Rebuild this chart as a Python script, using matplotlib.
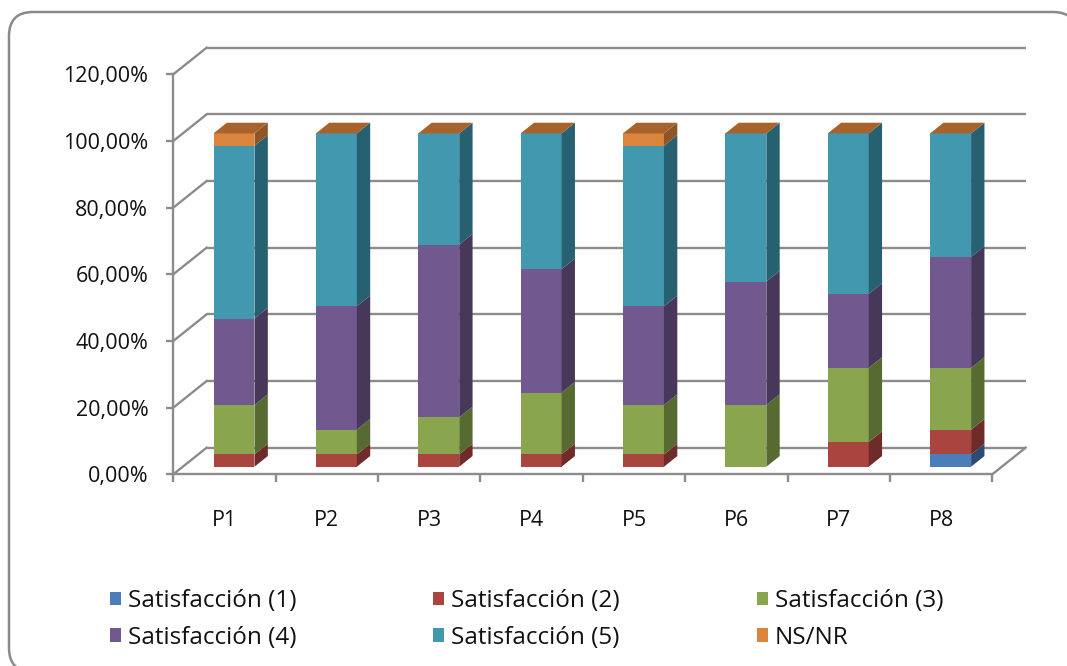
import numpy as np
import matplotlib
matplotlib.use("Agg")
import matplotlib.pyplot as plt
from matplotlib.patches import Patch, FancyBboxPatch
from matplotlib.transforms import Affine2D
from matplotlib.ticker import FuncFormatter

# ---- data (percent of answers per question) ----
categories = ["P1", "P2", "P3", "P4", "P5", "P6", "P7", "P8"]
series_names = ["Satisfacción (1)", "Satisfacción (2)", "Satisfacción (3)",
                "Satisfacción (4)", "Satisfacción (5)", "NS/NR"]
sat1 = [0.00, 0.00, 0.00, 0.00, 0.00, 0.00, 0.00, 3.70]
sat2 = [3.70, 3.70, 3.70, 3.70, 3.70, 0.00, 7.41, 7.41]
sat3 = [14.81, 7.41, 11.11, 18.52, 14.81, 18.52, 22.22, 18.52]
sat4 = [25.93, 37.04, 51.85, 37.04, 29.63, 37.04, 22.22, 33.33]
sat5 = [51.85, 51.85, 33.33, 40.74, 48.15, 44.44, 48.15, 37.04]
nsnr = [3.70, 0.00, 0.00, 0.00, 3.70, 0.00, 0.00, 0.00]
y_ticks = [0, 20, 40, 60, 80, 100, 120]

# ---- styling ----
front_cols = ["#4A7DBA", "#A9443F", "#89A54E", "#71588F", "#4198AF", "#DB843D"]
side_cols = ["#2C4B72", "#6E2B29", "#576A31", "#47385A", "#276070", "#8E5527"]
top_col = "#A8632C"
grid_col = "#8C8C8C"
font = "Open Sans"

W, H = 1067, 666
fig = plt.figure(figsize=(W / 100, H / 100), dpi=100)

# rounded chart frame on a pixel-scaled background axes
bg = fig.add_axes([0, 0, 1, 1], zorder=-1)
bg.set_xlim(0, W)
bg.set_ylim(H, 0)
bg.axis("off")
bg.add_patch(FancyBboxPatch((9, 12), 1077 - 9, 672 - 12,
                            boxstyle="round,pad=0,rounding_size=24",
                            facecolor="white", edgecolor="#8A8A8A",
                            linewidth=1.8, clip_on=False))

# front plane of the plot
x0_px, x8_px, y0_px, y120_px = 173.3, 992.3, 474.3, 74.3
ax = fig.add_axes([x0_px / W, (H - y0_px) / H, (x8_px - x0_px) / W, (y0_px - y120_px) / H])
ax.set_facecolor("none")
n = len(categories)
ax.set_xlim(0, n)
ax.set_ylim(0, 120)

# depth vector (full depth) in data units
DX, DY = 0.326, 8.0
Z0, Z1 = 0.285, 0.685
bar_w = 0.40

def shift(z):
    return Affine2D().translate(z * DX, z * DY) + ax.transData

# back wall, side wall and floor lines
for lvl in y_ticks:
    ax.plot([DX, n + DX], [lvl + DY, lvl + DY], color=grid_col, lw=1.7,
            clip_on=False, zorder=1, solid_capstyle="butt")
    ax.plot([0, DX], [lvl, lvl + DY], color=grid_col, lw=1.7,
            clip_on=False, zorder=1)
ax.plot([n, n + DX], [0, DY], color=grid_col, lw=1.7, clip_on=False, zorder=1)

# stacked 3D columns
series = [sat1, sat2, sat3, sat4, sat5, nsnr]
xc = np.arange(n) + 0.5
bottom = np.zeros(n)
for vals, fc, sc, name in zip(series, front_cols, side_cols, series_names):
    vals = np.asarray(vals, dtype=float)
    ax.bar(xc, vals, bottom=bottom, width=bar_w, color=fc, linewidth=0,
           transform=shift(Z0), zorder=3, label=name, clip_on=False)
    for i in range(n):
        if vals[i] <= 0:
            continue
        xr = xc[i] + bar_w / 2
        y_lo, y_hi = bottom[i], bottom[i] + vals[i]
        ax.fill([xr + Z0 * DX, xr + Z1 * DX, xr + Z1 * DX, xr + Z0 * DX],
                [y_lo + Z0 * DY, y_lo + Z1 * DY, y_hi + Z1 * DY, y_hi + Z0 * DY],
                color=sc, lw=0, clip_on=False, zorder=3)
    bottom = bottom + vals

# top faces of the columns
for i in range(n):
    xl, xr = xc[i] - bar_w / 2, xc[i] + bar_w / 2
    yt = bottom[i]
    ax.fill([xl + Z0 * DX, xr + Z0 * DX, xr + Z1 * DX, xl + Z1 * DX],
            [yt + Z0 * DY, yt + Z0 * DY, yt + Z1 * DY, yt + Z1 * DY],
            color=top_col, lw=0, clip_on=False, zorder=3)

# axes, ticks and labels
for s in ["top", "right"]:
    ax.spines[s].set_visible(False)
for s in ["left", "bottom"]:
    ax.spines[s].set_color(grid_col)
    ax.spines[s].set_linewidth(1.7)
    ax.spines[s].set_zorder(2)

ax.set_yticks(y_ticks)
ax.yaxis.set_major_formatter(FuncFormatter(lambda v, p: f"{v:.2f}%".replace(".", ",")))
ax.tick_params(axis="y", direction="out", length=5, width=1.7, color=grid_col,
               pad=13, labelsize=15.5, labelcolor="#111111")
ax.set_xticks(np.arange(n + 1))
ax.set_xticklabels([])
ax.set_xticks(xc, minor=True)
ax.set_xticklabels(categories, minor=True)
ax.tick_params(axis="x", which="major", direction="out", length=6, width=1.7, color=grid_col)
ax.tick_params(axis="x", which="minor", length=0, pad=26, labelsize=15.5, labelcolor="#111111")
for lab in ax.get_yticklabels() + ax.get_xticklabels(minor=True):
    lab.set_fontfamily(font)

# legend in three columns, filled row by row
handles = [Patch(facecolor=c, edgecolor="none") for c in front_cols]
order = [0, 3, 1, 4, 2, 5]
leg = fig.legend([handles[k] for k in order], [series_names[k] for k in order],
                 ncol=3, loc="upper left", bbox_to_anchor=(110 / W, (H - 589) / H),
                 frameon=False, prop={"family": font, "size": 17.5},
                 handlelength=0.45, handleheight=0.45, handletextpad=0.29,
                 labelspacing=0.52, columnspacing=5.63, borderpad=0, borderaxespad=0)
for t in leg.get_texts():
    t.set_color("#111111")

fig.savefig("out.png", dpi=100, facecolor="white")
